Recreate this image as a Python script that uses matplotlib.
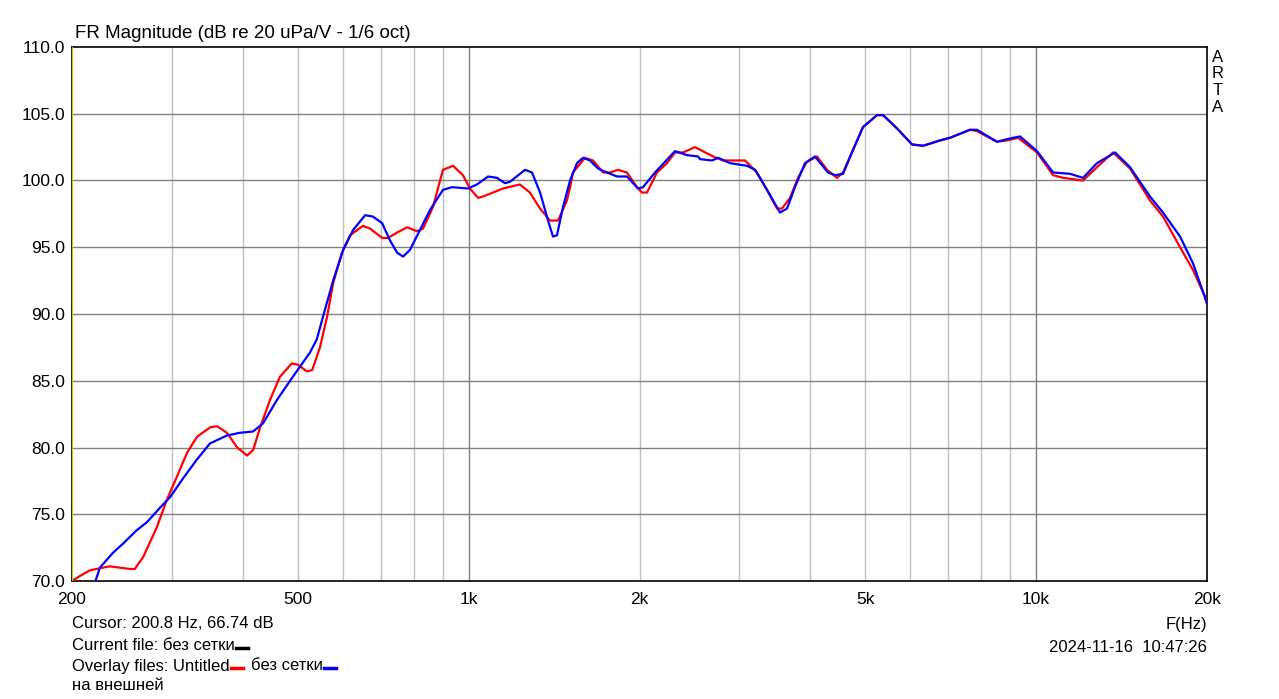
import numpy as np
import matplotlib
matplotlib.use('Agg')
import matplotlib.pyplot as plt
from matplotlib.ticker import FixedLocator, NullFormatter

plt.rcParams['font.family'] = ['Liberation Sans', 'DejaVu Sans']

# red overlay: "Untitled"
f_red = [200, 207, 215, 233, 253, 258, 267, 282, 294, 306, 319, 332, 350, 360, 375,
         391, 407, 417, 429, 447, 465, 488, 500, 519, 530, 547, 563, 577, 598, 618,
         651, 670, 704, 721, 748, 779, 811, 831, 865, 901, 939, 977, 1005, 1039, 1060,
         1104, 1149, 1231, 1282, 1336, 1391, 1437, 1490, 1509, 1527, 1603, 1656, 1725,
         1775, 1833, 1901, 1980, 2020, 2062, 2147, 2236, 2310, 2387, 2505, 2696, 2807,
         2971, 3069, 3222, 3355, 3494, 3566, 3684, 3804, 3946, 4110, 4280, 4457, 4568,
         4757, 4953, 5243, 5373, 5686, 6044, 6320, 6770, 7050, 7647, 7866, 8531, 8884,
         9290, 10034, 10710, 11154, 12094, 12802, 13662, 14634, 15871, 16731, 17930,
         18894, 19839, 20000]
db_red = [70.0, 70.4, 70.8, 71.1, 70.9, 70.9, 71.8, 74.0, 76.1, 77.8, 79.6, 80.8, 81.5,
          81.6, 81.1, 80.0, 79.4, 79.8, 81.5, 83.6, 85.3, 86.3, 86.2, 85.7, 85.8, 87.5,
          89.8, 92.3, 94.6, 95.9, 96.6, 96.4, 95.7, 95.7, 96.1, 96.5, 96.2, 96.4, 98.0,
          100.8, 101.1, 100.4, 99.4, 98.7, 98.8, 99.1, 99.4, 99.7, 99.1, 97.9, 97.0,
          97.0, 98.5, 99.5, 100.6, 101.7, 101.5, 100.6, 100.6, 100.8, 100.6, 99.5, 99.1,
          99.1, 100.6, 101.3, 102.1, 102.1, 102.5, 101.8, 101.5, 101.5, 101.5, 100.6,
          99.3, 97.9, 97.9, 98.7, 100.2, 101.4, 101.8, 100.8, 100.2, 100.6, 102.3, 104.0,
          104.9, 104.9, 103.9, 102.7, 102.6, 103.0, 103.2, 103.8, 103.7, 102.9, 103.0,
          103.2, 102.1, 100.4, 100.2, 100.0, 101.0, 102.1, 100.9, 98.5, 97.3, 95.0,
          93.3, 91.3, 90.7]

# blue overlay: "без сетки"
f_blue = [200, 220, 224, 236, 246, 260, 271, 286, 298, 314, 332, 350, 375, 395, 417,
          434, 460, 490, 525, 540, 558, 577, 601, 626, 657, 678, 704, 727, 748, 766,
          788, 821, 855, 901, 935, 997, 1034, 1082, 1122, 1159, 1182, 1257, 1293, 1336,
          1380, 1408, 1431, 1466, 1509, 1552, 1590, 1636, 1690, 1753, 1826, 1901, 1988,
          2029, 2130, 2218, 2310, 2425, 2536, 2557, 2684, 2751, 2888, 3094, 3196, 3355,
          3537, 3639, 3758, 3914, 4076, 4297, 4421, 4568, 4757, 4953, 5243, 5373, 5686,
          6044, 6320, 6770, 7050, 7647, 7866, 8531, 8884, 9366, 10034, 10710, 11474,
          12094, 12802, 13773, 14634, 15871, 16731, 17930, 18894, 20000]
db_blue = [68.6, 70.0, 71.0, 72.1, 72.8, 73.8, 74.4, 75.5, 76.3, 77.7, 79.1, 80.3, 80.9,
           81.1, 81.2, 81.8, 83.6, 85.3, 87.1, 88.1, 90.3, 92.5, 94.8, 96.3, 97.4, 97.3,
           96.8, 95.5, 94.6, 94.3, 94.8, 96.3, 97.8, 99.3, 99.5, 99.4, 99.7, 100.3,
           100.2, 99.8, 99.9, 100.8, 100.6, 99.1, 97.0, 95.8, 95.9, 98.0, 100.0, 101.3,
           101.7, 101.5, 100.9, 100.6, 100.3, 100.3, 99.4, 99.5, 100.6, 101.4, 102.2,
           101.9, 101.8, 101.6, 101.5, 101.7, 101.3, 101.1, 100.8, 99.3, 97.6, 97.9,
           99.5, 101.3, 101.8, 100.6, 100.4, 100.5, 102.3, 104.0, 104.9, 104.9, 103.9,
           102.7, 102.6, 103.0, 103.2, 103.8, 103.8, 102.9, 103.1, 103.3, 102.2, 100.6,
           100.5, 100.2, 101.3, 102.1, 101.0, 98.8, 97.6, 95.8, 93.8, 90.8]

x_ticks = [200, 500, 1000, 2000, 5000, 10000, 20000]
x_labels = ['200', '500', '1k', '2k', '5k', '10k', '20k']
y_ticks = [70, 75, 80, 85, 90, 95, 100, 105, 110]

light_grid = [300, 400, 500, 600, 700, 800, 900, 2000, 3000, 4000, 5000, 6000, 7000,
              8000, 9000]
dark_grid = [1000, 10000]

fig = plt.figure(figsize=(12.79, 6.99), dpi=100)
ax = fig.add_axes([72 / 1279, 1 - 581 / 699, 1135 / 1279, 534 / 699])
ax.set_xscale('log')
ax.set_xlim(200, 20000)
ax.set_ylim(70, 110)

for f in light_grid:
    ax.axvline(f, color='#c0c0c0', lw=1, zorder=1)
for f in dark_grid:
    ax.axvline(f, color='#808080', lw=1, zorder=1)
for y in y_ticks[1:-1]:
    ax.axhline(y, color='#808080', lw=1, zorder=1)

ax.plot(f_red, db_red, color='#ff0000', lw=1.6, zorder=3)
ax.plot(f_blue, db_blue, color='#0000ff', lw=1.6, zorder=4)
ax.axvline(200, color='#e8e800', lw=1.2, zorder=5)

ax.xaxis.set_major_locator(FixedLocator(x_ticks))
ax.xaxis.set_minor_locator(FixedLocator([]))
ax.xaxis.set_minor_formatter(NullFormatter())
ax.set_xticklabels(x_labels)
ax.set_yticks(y_ticks)
ax.set_yticklabels(['%.1f' % v for v in y_ticks])
ax.tick_params(axis='both', length=0, labelsize=12.5, colors='black')
ax.tick_params(axis='x', pad=8)
ax.tick_params(axis='y', pad=5)
for s in ax.spines.values():
    s.set_color('black')
    s.set_linewidth(1.2)

fs = 12
fig.text(75 / 1279, 1 - 33 / 699, 'FR Magnitude (dB re 20 uPa/V - 1/6 oct)', fontsize=13.5,
         va='center', ha='left')
for i, ch in enumerate('ARTA'):
    fig.text(1218 / 1279, 1 - (57 + 16.7 * i) / 699, ch, fontsize=fs, ha='center', va='center')

fig.text(1207 / 1279, 1 - 624 / 699, 'F(Hz)', fontsize=fs, ha='right', va='center')
fig.text(1207 / 1279, 1 - 647 / 699, '2024-11-16  10:47:26', fontsize=fs, ha='right', va='center')

fig.text(72 / 1279, 1 - 624 / 699, 'Cursor: 200.8 Hz, 66.74 dB', fontsize=fs, va='center')
t1 = fig.text(72 / 1279, 1 - 646 / 699, 'Current file: без сетки', fontsize=fs, va='center')
t2 = fig.text(72 / 1279, 1 - 666 / 699, 'Overlay files: Untitled', fontsize=fs, va='center')
fig.text(72 / 1279, 1 - 686 / 699, 'на внешней', fontsize=fs, va='center')

fig.canvas.draw()
r = fig.canvas.get_renderer()


def dash(after, y, color):
    bb = after.get_window_extent(r)
    x0 = bb.x1 + 1
    fig.add_artist(plt.Line2D([x0 / 1279, (x0 + 12) / 1279], [1 - y / 699, 1 - y / 699],
                              color=color, lw=2.5, transform=fig.transFigure))
    return x0 + 12


dash(t1, 648, 'black')
xe = dash(t2, 668, '#ff0000')
t3 = fig.text((xe + 8) / 1279, 1 - 666 / 699, 'без сетки', fontsize=fs, va='center')
fig.canvas.draw()
dash(t3, 668, '#0000ff')

fig.savefig('out.png', dpi=100)
